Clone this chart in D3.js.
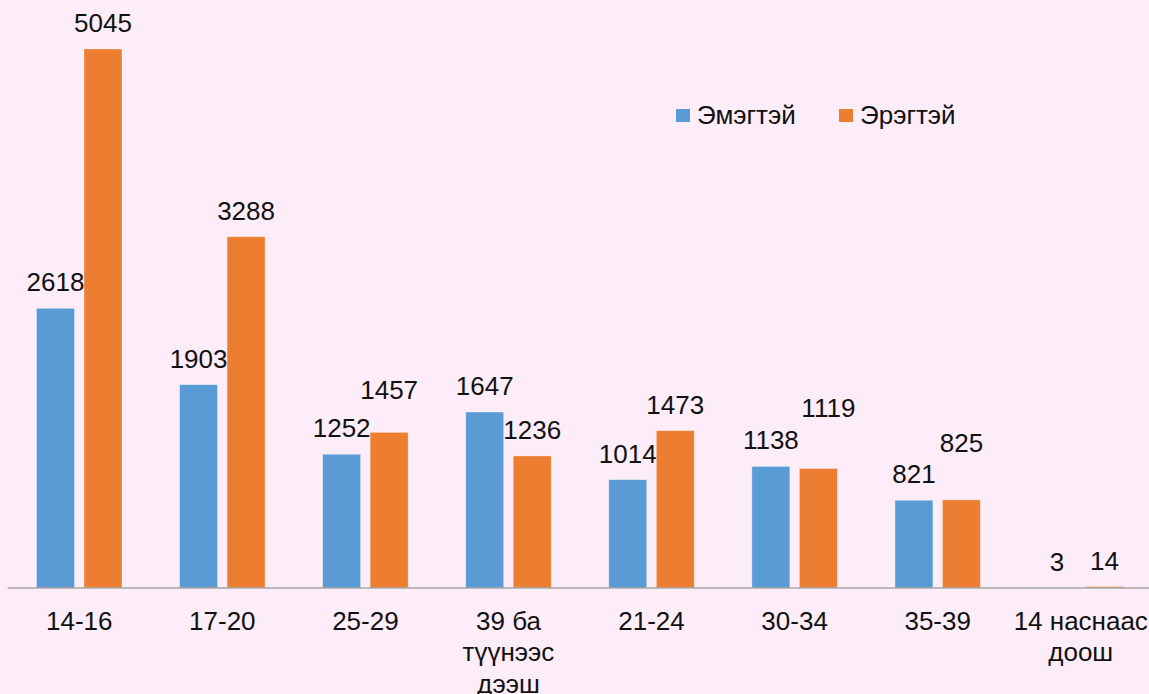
<!DOCTYPE html>
<html>
<head>
<meta charset="utf-8">
<script src="https://cdn.jsdelivr.net/npm/d3@7"></script>
<style>
	html, body { margin: 0; padding: 0; background: #fdedf8; }
	#chart { width: 1149px; height: 694px; }
	text { font-family: "Liberation Sans", Arial, sans-serif; fill: #111; }
</style>
</head>
<body>
<div id="chart"></div>
<script>
// 나이대별 데이터
const categories = ["14-16", "17-20", "25-29", "39 ба түүнээс дээш", "21-24", "30-34", "35-39", "14 наснаас доош"];
const seriesNames = ["Эмэгтэй", "Эрэгтэй"];
const femaleValues = [2618, 1903, 1252, 1647, 1014, 1138, 821, 3];
const maleValues = [5045, 3288, 1457, 1236, 1473, 1119, 825, 14];

// 라벨 겹침 회피용 위치 보정 (엑셀 자동 배치 흉내)
const labelNudge = {
	"Эрэгтэй-2": [0, -16],
	"Эрэгтэй-5": [10, -34],
	"Эрэгтэй-6": [0, -31]
};

const W = 1149, H = 694;
const baseY = 588;

const svg = d3.select("#chart").append("svg")
	.attr("width", W)
	.attr("height", H);

svg.append("rect")
	.attr("width", W)
	.attr("height", H)
	.attr("fill", "#fdedf8");

const x0 = d3.scaleBand().domain(categories).range([7.7, 1152.3]).padding(0);
const x1 = d3.scaleBand().domain(seriesNames).range([0, x0.bandwidth()])
	.paddingInner(0.2).paddingOuter(0.606);
const y = d3.scaleLinear().domain([0, 5503]).range([baseY, 0]);
const color = d3.scaleOrdinal().domain(seriesNames).range(["#5b9bd5", "#ed7d31"]);

const rows = categories.map((c, i) => ({
	category: c,
	values: [
		{ key: seriesNames[0], value: femaleValues[i], idx: i },
		{ key: seriesNames[1], value: maleValues[i], idx: i }
	]
}));

const groups = svg.append("g").selectAll("g")
	.data(rows)
	.join("g")
	.attr("transform", d => `translate(${x0(d.category)},0)`);

groups.selectAll("rect")
	.data(d => d.values)
	.join("rect")
	.attr("x", d => x1(d.key))
	.attr("y", d => y(d.value))
	.attr("width", x1.bandwidth())
	.attr("height", d => baseY - y(d.value))
	.attr("fill", d => color(d.key))
	.attr("stroke", "#ffffff")
	.attr("stroke-opacity", 0.45)
	.attr("stroke-width", 0.8);

groups.selectAll("text.val")
	.data(d => d.values)
	.join("text")
	.attr("class", "val")
	.attr("text-anchor", "middle")
	.style("font-size", "26px")
	.attr("x", d => x1(d.key) + x1.bandwidth() / 2 + (labelNudge[`${d.key}-${d.idx}`] || [0, 0])[0])
	.attr("y", d => y(d.value) - 17 + (labelNudge[`${d.key}-${d.idx}`] || [0, 0])[1])
	.text(d => d.value);

// x축 선
const xAxis = svg.append("g")
	.attr("transform", `translate(0,${baseY})`)
	.call(d3.axisBottom(x0).tickSize(0).tickFormat(""));
xAxis.select(".domain")
	.attr("stroke", "#a6a6a6")
	.attr("stroke-width", 1.5)
	.attr("d", `M${x0.range()[0]},0H${W}`);

// 카테고리 라벨 (줄바꿈)
function wrapWords(label, maxW, probe) {
	const words = label.split(" ");
	const lines = [];
	let line = words[0];
	for (let i = 1; i < words.length; i++) {
		const test = line + " " + words[i];
		probe.text(test);
		if (probe.node().getComputedTextLength() > maxW) {
			lines.push(line);
			line = words[i];
		} else {
			line = test;
		}
	}
	lines.push(line);
	return lines;
}

const probe = svg.append("text").style("font-size", "26px").attr("visibility", "hidden");

categories.forEach(c => {
	const lines = wrapWords(c, 142, probe);
	const t = svg.append("text")
		.attr("text-anchor", "middle")
		.style("font-size", "26px");
	lines.forEach((ln, j) => {
		t.append("tspan")
			.attr("x", x0(c) + x0.bandwidth() / 2)
			.attr("y", 629.5 + j * 31.5)
			.text(ln);
	});
});
probe.remove();

// 범례
const legendX = [676, 839];
const legend = svg.append("g").selectAll("g")
	.data(seriesNames)
	.join("g")
	.attr("transform", (d, i) => `translate(${legendX[i]},109)`);

legend.append("rect")
	.attr("width", 14)
	.attr("height", 13)
	.attr("fill", d => color(d));

legend.append("text")
	.attr("x", 21)
	.attr("y", 15)
	.style("font-size", "26px")
	.text(d => d);
</script>
</body>
</html>
